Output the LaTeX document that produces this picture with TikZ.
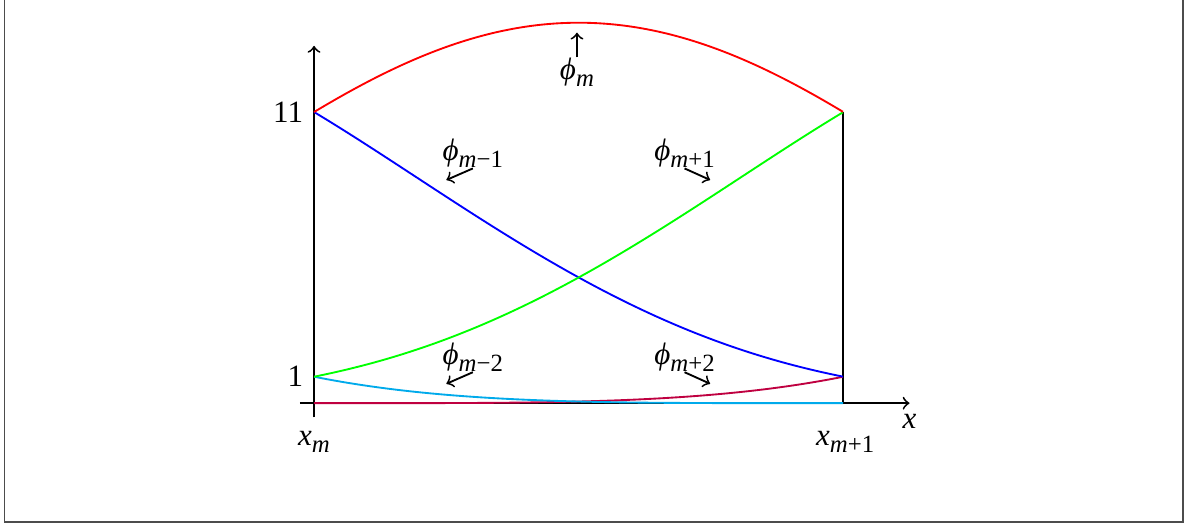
\documentclass[tikz,border=0pt]{standalone}
\usepackage{fontspec}
\setmainfont{Liberation Serif}
\usepackage{tikz}
\usetikzlibrary{positioning,calc}
\definecolor{phiminus}{RGB}{0,170,235}
\definecolor{phiplus} {RGB}{191,0,64}
\newcommand{\withsub}[2]{\textit{#1}\raisebox{-0.5ex}{\footnotesize #2}}

\begin{document}
\begin{tikzpicture}[
  axis/.style={draw=black, line width=0.6pt},
  basis/.style={line width=0.6pt, domain=0:1, samples=80, smooth},
  lbl/.style={inner sep=0pt},
  pointer/.style={draw=black, line width=0.6pt, ->},
  frame/.style={draw=black!70, line width=0.5pt}
]
\useasboundingbox (-3.56,-1.395) rectangle (10.02,4.57);
\draw[frame] (-3.51,4.57) -- (-3.51,-1.35) -- (9.85,-1.35) -- (9.85,4.57);

% axes
\coordinate (xstart) at (-0.16,0);
\coordinate (xend) at (6.75,0);
\coordinate (ystart) at (0,-0.16);
\coordinate (yend) at (0,4.05);
\coordinate (rbot) at (6,0);
\coordinate (rtop) at (6,3.3);
\draw[axis,->] (xstart) -- (xend);
\draw[axis,->] (ystart) -- (yend);
\draw[axis] (rbot) -- (rtop);

\node[left] (v11) at (0,3.3) {11};
\node[left] (v1) at (0,0.3) {1};
\node (xm) at (0,-0.44) {\withsub{x}{\textit{m}}};
\node (xmp) at (6.02,-0.44) {\withsub{x}{\textit{m}+1}};
\node[below] (xlbl) at (xend) {\textit{x}};

% quartic basis pieces, scaled by 24
\draw[basis, phiplus]  plot ({6*\x},{0.3*(\x^4)});
\draw[basis, phiminus] plot ({6*\x},{0.3*((1-\x)^4)});
\draw[basis, blue]  plot ({6*\x},{0.3*(11 - 12*\x - 6*\x^2 + 12*\x^3 - 4*\x^4)});
\draw[basis, green] plot ({6*\x},{0.3*(1 + 4*\x + 6*\x^2 + 4*\x^3 - 4*\x^4)});
\draw[basis, red]   plot ({6*\x},{0.3*(11 + 12*\x - 6*\x^2 - 12*\x^3 + 6*\x^4)});

% labels
\node[lbl] (pm) at (2.98,3.75) {\withsub{ϕ}{\textit{m}}};
\node[lbl] (pmm1) at (1.80,2.83) {\withsub{ϕ}{\textit{m}−1}};
\node[lbl] (pmp1) at (4.20,2.83) {\withsub{ϕ}{\textit{m}+1}};
\node[lbl] (pmm2) at (1.80,0.52) {\withsub{ϕ}{\textit{m}−2}};
\node[lbl] (pmp2) at (4.20,0.52) {\withsub{ϕ}{\textit{m}+2}};
\coordinate (pm-tip) at (2.98,4.2);
\coordinate (pmm1-tip) at (1.50,2.53);
\coordinate (pmp1-tip) at (4.49,2.53);
\coordinate (pmm2-tip) at (1.50,0.22);
\coordinate (pmp2-tip) at (4.49,0.22);
\draw[pointer] (pm.north) -- (pm-tip);
\draw[pointer] (pmm1.south) -- (pmm1-tip);
\draw[pointer] (pmp1.south) -- (pmp1-tip);
\draw[pointer] (pmm2.south) -- (pmm2-tip);
\draw[pointer] (pmp2.south) -- (pmp2-tip);
\end{tikzpicture}
\end{document}
